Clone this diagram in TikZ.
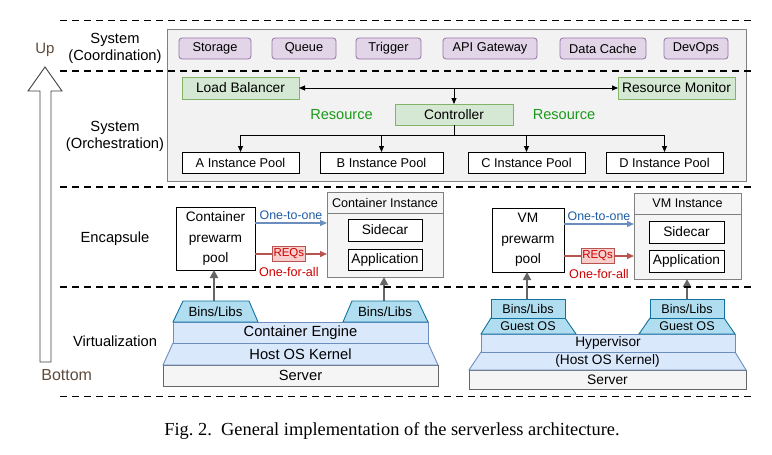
\documentclass[tikz,border=0pt]{standalone}
\usepackage{fontspec}
\setmainfont{Liberation Sans}
\newfontfamily\capfont{Liberation Serif}
\usetikzlibrary{arrows.meta}
\definecolor{purpF}{HTML}{E1D5E7}
\definecolor{purpD}{HTML}{9673A6}
\definecolor{grnF}{HTML}{D5E8D4}
\definecolor{grnD}{HTML}{82B366}
\definecolor{sysF}{HTML}{F2F2F2}
\definecolor{sysD}{HTML}{808080}
\definecolor{cyanF}{HTML}{B1DDF0}
\definecolor{cyanD}{HTML}{10739E}
\definecolor{ltbF}{HTML}{DAE8FC}
\definecolor{ltbD}{HTML}{6C8EBF}
\definecolor{srvF}{HTML}{F5F5F5}
\definecolor{srvD}{HTML}{666666}
\definecolor{blueT}{HTML}{1F5AA6}
\definecolor{redL}{HTML}{B85450}
\definecolor{redF}{HTML}{F8CECC}
\definecolor{redT}{HTML}{CC0000}
\definecolor{greenT}{HTML}{1A9A1A}
\definecolor{upT}{HTML}{5E4B3C}
\newcommand{\fs}[2]{\fontsize{#1}{#2}\selectfont}
\begin{document}
\begin{tikzpicture}[x=1pt,y=-1pt,
  every node/.style={inner sep=0pt, outer sep=0pt},
  purp/.style={draw=purpD, fill=purpF, rounded corners=3pt, line width=0.8pt, minimum height=21pt, font=\fs{12.8}{15}},
  grn/.style={draw=grnD, fill=grnF, line width=0.8pt, minimum height=22pt, font=\fs{13.8}{16}},
  poolbox/.style={draw=black, fill=white, line width=0.9pt, minimum height=21pt, font=\fs{12.8}{15}},
  innerbox/.style={draw=black, fill=white, line width=0.9pt, minimum height=22pt, font=\fs{13.7}{16}},
  prewarm/.style={draw=black, fill=white, line width=0.9pt, align=center, font=\fs{13.7}{20.5}},
  inst/.style={draw=sysD, fill=srvF, line width=0.9pt},
  lbl/.style={align=center, font=\fs{14.7}{17}},
  dline/.style={line width=1.8pt, dash pattern=on 7pt off 5pt},
  arr/.style={line width=0.9pt, -{Triangle[length=6pt,width=5pt]}},
  arrboth/.style={line width=0.9pt, {Triangle[length=6pt,width=5pt]}-{Triangle[length=6pt,width=5pt]}},
  garr/.style={draw=srvD, line width=2.4pt, -{Triangle[length=8pt,width=8pt]}},
  barr/.style={draw=ltbD, line width=1.3pt, -{Triangle[length=7pt,width=6pt]}},
  rarr/.style={draw=redL, line width=1.3pt, -{Triangle[length=7pt,width=6pt]}},
  cyanS/.style={draw=cyanD, fill=cyanF, line width=0.9pt},
  ltbS/.style={draw=ltbD, fill=ltbF, line width=0.9pt},
  srvS/.style={draw=srvD, fill=srvF, line width=0.9pt},
]
\useasboundingbox (0,0) rectangle (772,455);

% ---------- Up arrow ----------
\draw[draw=black!75, fill=white, line width=0.9pt] (40,362) -- (40,91) -- (28,91) -- (45,67) -- (62,91) -- (51,91) -- (51,362) -- cycle;
\node[text=upT, font=\fs{15}{18}] (up) at (45,50) {Up};
\node[text=upT, font=\fs{16}{19}] (bottom) at (66.7,375) {Bottom};

% ---------- layer labels ----------
\node[lbl] (lcoord) at (115,48.5) {System\\(Coordination)};
\node[lbl] (lorch) at (115,136.5) {System\\(Orchestration)};
\node[lbl] (lenc) at (115,239) {Encapsule};
\node[lbl] (lvirt) at (115,341) {Virtualization};

% ---------- system box ----------
\draw[draw=sysD, fill=sysF, line width=0.9pt] (167,29) rectangle (746,181);

\node[purp, minimum width=72pt] (storage) at (215,48.5) {Storage};
\node[purp, minimum width=64pt] (queue) at (304,48.5) {Queue};
\node[purp, minimum width=65pt] (trigger) at (388.5,48.5) {Trigger};
\node[purp, minimum width=94pt] (api) at (490,48.5) {API Gateway};
\node[purp, minimum width=86pt] (cache) at (603,48.5) {Data Cache};
\node[purp, minimum width=64pt] (devops) at (696,48.5) {DevOps};

\node[grn, minimum width=117pt] (lb) at (240.5,88) {Load Balancer};
\node[grn, minimum width=117pt] (rm) at (676.5,88) {Resource Monitor};
\node[grn, minimum width=118pt, minimum height=21pt] (ctrl) at (454,114.5) {Controller};
\node[text=greenT, font=\fs{14.6}{17}] (resL) at (341.5,114.5) {Resource};
\node[text=greenT, font=\fs{14.6}{17}] (resR) at (564,114.5) {Resource};

\node[poolbox, minimum width=117pt] (pA) at (240.5,162.5) {A Instance Pool};
\node[poolbox, minimum width=123pt] (pB) at (381.5,162.5) {B Instance Pool};
\node[poolbox, minimum width=117pt] (pC) at (526.5,162.5) {C Instance Pool};
\node[poolbox, minimum width=117pt] (pD) at (664.5,162.5) {D Instance Pool};

\draw[arrboth] (lb.east) -- (rm.west);
\draw[arr] (ctrl.north |- lb.east) -- (ctrl.north);
\coordinate (bus) at ([yshift=-10pt]ctrl.south);
\draw[line width=0.9pt] (ctrl.south) -- (bus);
\draw[arr] (bus) -| (pA.north);
\draw[arr] (bus) -| (pB.north);
\draw[arr] (bus) -| (pC.north);
\draw[arr] (bus) -| (pD.north);

% ---------- Encapsule: container ----------
\node[prewarm, minimum width=79pt, minimum height=63pt] (cpool) at (215.5,238.5) {Container\\prewarm\\pool};
\node[inst, minimum width=116pt, minimum height=85pt] (cinst) at (385,234.5) {};
\draw[draw=sysD, line width=0.9pt] ([yshift=-21pt]cinst.north west) -- ([yshift=-21pt]cinst.north east);
\node[font=\fs{12.6}{15}] (cinstT) at (385,202.5) {Container Instance};
\node[innerbox, minimum width=74pt] (cside) at (385,230) {Sidecar};
\node[innerbox, minimum width=74pt, minimum height=21pt] (capp) at (385,259.5) {Application};

\draw[barr] ([yshift=15.5pt]cpool.east) -- ([yshift=15.5pt]cpool.east -| cinst.west)
  node[midway, above=3pt, text=blueT, font=\fs{12.4}{15}] (c121) {One-to-one};
\draw[rarr] ([yshift=-15.5pt]cpool.east) -- ([yshift=-15.5pt]cpool.east -| cinst.west)
  node[pos=0.47, draw=redL, fill=redF, line width=0.9pt, text=redT, minimum width=33pt, minimum height=15pt, font=\fs{11.5}{13}] (creq) {REQs}
  node[pos=0.47, below=13pt, text=redT, font=\fs{12.6}{15}] (c14a) {One-for-all};

% ---------- Encapsule: VM ----------
\node[prewarm, minimum width=72pt, minimum height=64pt] (vpool) at (528,240) {VM\\prewarm\\pool};
\node[inst, minimum width=107pt, minimum height=86pt] (vinst) at (687.5,236) {};
\draw[draw=sysD, line width=0.9pt] ([yshift=-21pt]vinst.north west) -- ([yshift=-21pt]vinst.north east);
\node[font=\fs{12.6}{15}] (vinstT) at (687.5,203.5) {VM Instance};
\node[innerbox, minimum width=75pt] (vside) at (686.5,232) {Sidecar};
\node[innerbox, minimum width=75pt] (vapp) at (686.5,261) {Application};

\draw[barr] ([yshift=16pt]vpool.east) -- ([yshift=16pt]vpool.east -| vinst.west)
  node[midway, above=3pt, text=blueT, font=\fs{12.4}{15}] (v121) {One-to-one};
\draw[rarr] ([yshift=-16pt]vpool.east) -- ([yshift=-16pt]vpool.east -| vinst.west)
  node[pos=0.48, draw=redL, fill=redF, line width=0.9pt, text=redT, minimum width=33pt, minimum height=15pt, font=\fs{11.5}{13}] (vreq) {REQs}
  node[pos=0.5, below=13pt, text=redT, font=\fs{12.6}{15}] (v14a) {One-for-all};

% ---------- Virtualization: container stack ----------
\filldraw[srvS] (163,365) rectangle (438,386);
\filldraw[ltbS] (173,343) -- (428,343) -- (438,365) -- (163,365) -- cycle;
\filldraw[ltbS] (173,322) rectangle (428,343);
\filldraw[cyanS] (183,301) -- (249,301) -- (258,322) -- (173,322) -- cycle;
\filldraw[cyanS] (352,301) -- (418,301) -- (428,322) -- (343,322) -- cycle;
\node[font=\fs{13.3}{16}] (cbl1) at (215.5,311.5) {Bins/Libs};
\node[font=\fs{13.3}{16}] (cbl2) at (385,311.5) {Bins/Libs};
\node[font=\fs{14.7}{17}] (ceng) at (300.5,332.5) {Container Engine};
\node[font=\fs{14.7}{17}] (ckern) at (300.5,354) {Host OS Kernel};
\node[font=\fs{14.7}{17}] (csrv) at (300.5,375.5) {Server};
\coordinate (cbl1top) at (214,301);
\coordinate (cbl2top) at (384,301);
\draw[garr] (cbl1top) -- (cbl1top |- cpool.south);
\draw[garr] (cbl2top) -- (cbl2top |- cinst.south);

% ---------- Virtualization: VM stack ----------
\filldraw[srvS] (469,370) rectangle (746,389);
\filldraw[ltbS] (481,352) -- (735,352) -- (746,370) -- (469,370) -- cycle;
\filldraw[ltbS] (481,334) rectangle (735,352);
\filldraw[cyanS] (491,318) -- (565,318) -- (576,334) -- (481,334) -- cycle;
\filldraw[cyanS] (650,318) -- (724,318) -- (735,334) -- (639,334) -- cycle;
\filldraw[cyanS] (491,299) rectangle (565,318);
\filldraw[cyanS] (650,299) rectangle (724,318);
\node[font=\fs{12.6}{15}] (vbl1) at (528,308.5) {Bins/Libs};
\node[font=\fs{12.6}{15}] (vgo1) at (528,326) {Guest OS};
\node[font=\fs{12.6}{15}] (vbl2) at (687,308.5) {Bins/Libs};
\node[font=\fs{12.6}{15}] (vgo2) at (687,326) {Guest OS};
\node[font=\fs{13.7}{16}] (vhyp) at (608,343) {Hypervisor};
\node[font=\fs{13.7}{16}] (vkern) at (607.5,361) {(Host OS Kernel)};
\node[font=\fs{13.8}{16}] (vsrv) at (607.5,379.5) {Server};
\coordinate (vbl1top) at (527,299);
\coordinate (vbl2top) at (687,299);
\draw[garr] (vbl1top) -- (vbl1top |- vpool.south);
\draw[garr] (vbl2top) -- (vbl2top |- vinst.south);

% ---------- dashed separators ----------
\foreach \yy in {20.5,71,187,287,396.5} \draw[dline] (60,\yy) -- (751,\yy);

% ---------- caption ----------
\node[anchor=base, font=\capfont\fs{18.4}{21}] (cap) at (392,435) {Fig.~2.\ \ General implementation of the serverless architecture.};
\end{tikzpicture}
\end{document}
